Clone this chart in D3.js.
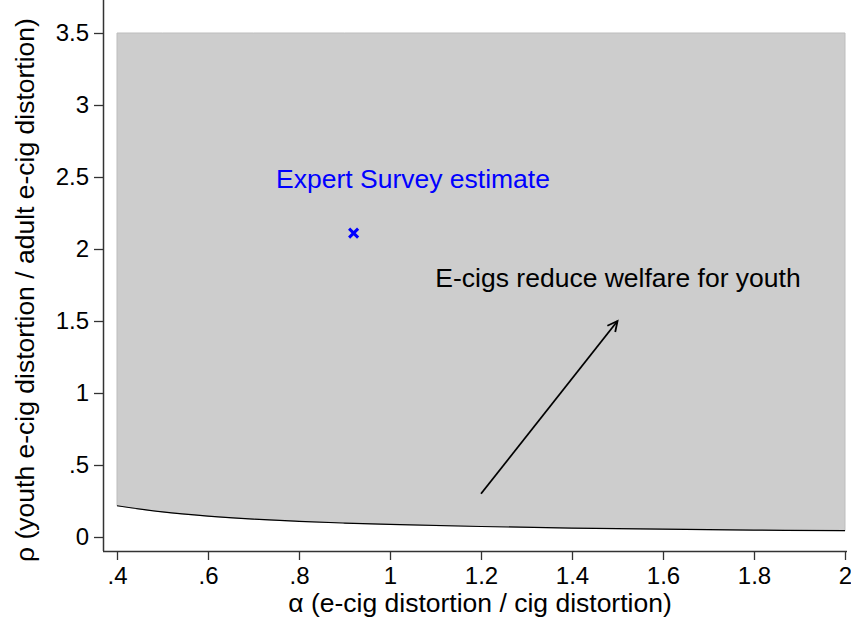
<!DOCTYPE html>
<html>
<head>
<meta charset="utf-8">
<script src="https://cdn.jsdelivr.net/npm/d3@7"></script>
<style>
  body { margin: 0; background: #fff; }
  text { font-family: "Liberation Sans", Arial, sans-serif; }
</style>
</head>
<body>
<div id="chart"></div>
<script>
// boundary curve
const alphaVals = [0.4, 0.5, 0.6, 0.7, 0.8, 0.9, 1.0, 1.2, 1.4, 1.6, 1.8, 2.0]
const rhoVals = [0.217, 0.174, 0.145, 0.124, 0.109, 0.097, 0.087, 0.073, 0.062, 0.054, 0.048, 0.044]
const rhoTop = 3.5

const xTicks = [0.4, 0.6, 0.8, 1, 1.2, 1.4, 1.6, 1.8, 2]
const yTicks = [0, 0.5, 1, 1.5, 2, 2.5, 3, 3.5]

const estimate = [0.92, 2.11]
const arrowFrom = [1.2, 0.3]
const arrowTo = [1.5, 1.5]

const width = 851, height = 624

const fmt = v => {
  let s = String(+v.toFixed(2))
  if (s.startsWith('0.')) s = s.slice(1)
  return s
}

const svg = d3.select('#chart').append('svg')
  .attr('width', width)
  .attr('height', height)

const x = d3.scaleLinear().domain([0.4, 2]).range([117, 845])
const y = d3.scaleLinear().domain([0, 3.5]).range([537, 33])

const pts = alphaVals.map((a, i) => ({ a, r: rhoVals[i] }))

// shaded region
const area = d3.area()
  .x(d => x(d.a))
  .y0(d => y(d.r))
  .y1(y(rhoTop))
  .curve(d3.curveMonotoneX)

svg.append('path')
  .datum(pts)
  .attr('d', area)
  .attr('fill', '#cdcdcd')
  .attr('stroke', '#bdbdbd')
  .attr('stroke-width', 1)

svg.append('path')
  .datum(pts)
  .attr('d', d3.line().x(d => x(d.a)).y(d => y(d.r)).curve(d3.curveMonotoneX))
  .attr('fill', 'none')
  .attr('stroke', '#000')
  .attr('stroke-width', 1.2)

// axes
const xAxis = svg.append('g')
  .attr('transform', 'translate(0,551)')
  .call(d3.axisBottom(x).tickValues(xTicks).tickFormat(fmt).tickSize(9).tickSizeOuter(0))
xAxis.select('.domain').attr('d', `M103,0.5H${width - 4}`).attr('stroke', '#333').attr('stroke-width', 1.5)
xAxis.selectAll('.tick line').attr('stroke', '#333').attr('stroke-width', 1.3)
xAxis.selectAll('.tick text')
  .attr('y', 33)
  .attr('dy', null)
  .attr('font-size', 24)
  .attr('fill', '#000')

const yAxis = svg.append('g')
  .attr('transform', 'translate(103,0)')
  .call(d3.axisLeft(y).tickValues(yTicks).tickFormat(fmt).tickSize(9).tickSizeOuter(0))
yAxis.select('.domain').attr('d', `M0.5,0V551`).attr('stroke', '#333').attr('stroke-width', 1.5)
yAxis.selectAll('.tick line').attr('stroke', '#333').attr('stroke-width', 1.3)
yAxis.selectAll('.tick text')
  .attr('x', -14)
  .attr('font-size', 24)
  .attr('fill', '#000')

// axis titles
svg.append('text')
  .attr('x', 480)
  .attr('y', 612)
  .attr('text-anchor', 'middle')
  .attr('font-size', 26.5)
  .text('α (e-cig distortion / cig distortion)')

svg.append('text')
  .attr('transform', 'translate(34,290) rotate(-90)')
  .attr('text-anchor', 'middle')
  .attr('font-size', 26.5)
  .text('ρ (youth e-cig distortion / adult e-cig distortion)')

// estimate marker
const mx = x(estimate[0]), my = y(estimate[1])
svg.append('path')
  .attr('d', `M${mx - 4.5},${my - 4.5}L${mx + 4.5},${my + 4.5}M${mx - 4.5},${my + 4.5}L${mx + 4.5},${my - 4.5}`)
  .attr('stroke', '#0000ff')
  .attr('stroke-width', 3)

svg.append('text')
  .attr('x', 413)
  .attr('y', 188)
  .attr('text-anchor', 'middle')
  .attr('font-size', 26.5)
  .attr('fill', '#0000ff')
  .text('Expert Survey estimate')

// arrow
svg.append('defs').append('marker')
  .attr('id', 'arrow')
  .attr('markerUnits', 'userSpaceOnUse')
  .attr('markerWidth', 14)
  .attr('markerHeight', 14)
  .attr('viewBox', '-12 -6 14 12')
  .attr('refX', 0)
  .attr('refY', 0)
  .attr('orient', 'auto')
  .append('path')
    .attr('d', 'M-10,-5L0,0L-10,5')
    .attr('fill', 'none')
    .attr('stroke', '#000')
    .attr('stroke-width', 1.8)

svg.append('line')
  .attr('x1', x(arrowFrom[0]))
  .attr('y1', y(arrowFrom[1]))
  .attr('x2', x(arrowTo[0]))
  .attr('y2', y(arrowTo[1]))
  .attr('stroke', '#000')
  .attr('stroke-width', 1.8)
  .attr('marker-end', 'url(#arrow)')

svg.append('text')
  .attr('x', 618)
  .attr('y', 287)
  .attr('text-anchor', 'middle')
  .attr('font-size', 26.5)
  .attr('fill', '#000')
  .text('E-cigs reduce welfare for youth')
</script>
</body>
</html>
